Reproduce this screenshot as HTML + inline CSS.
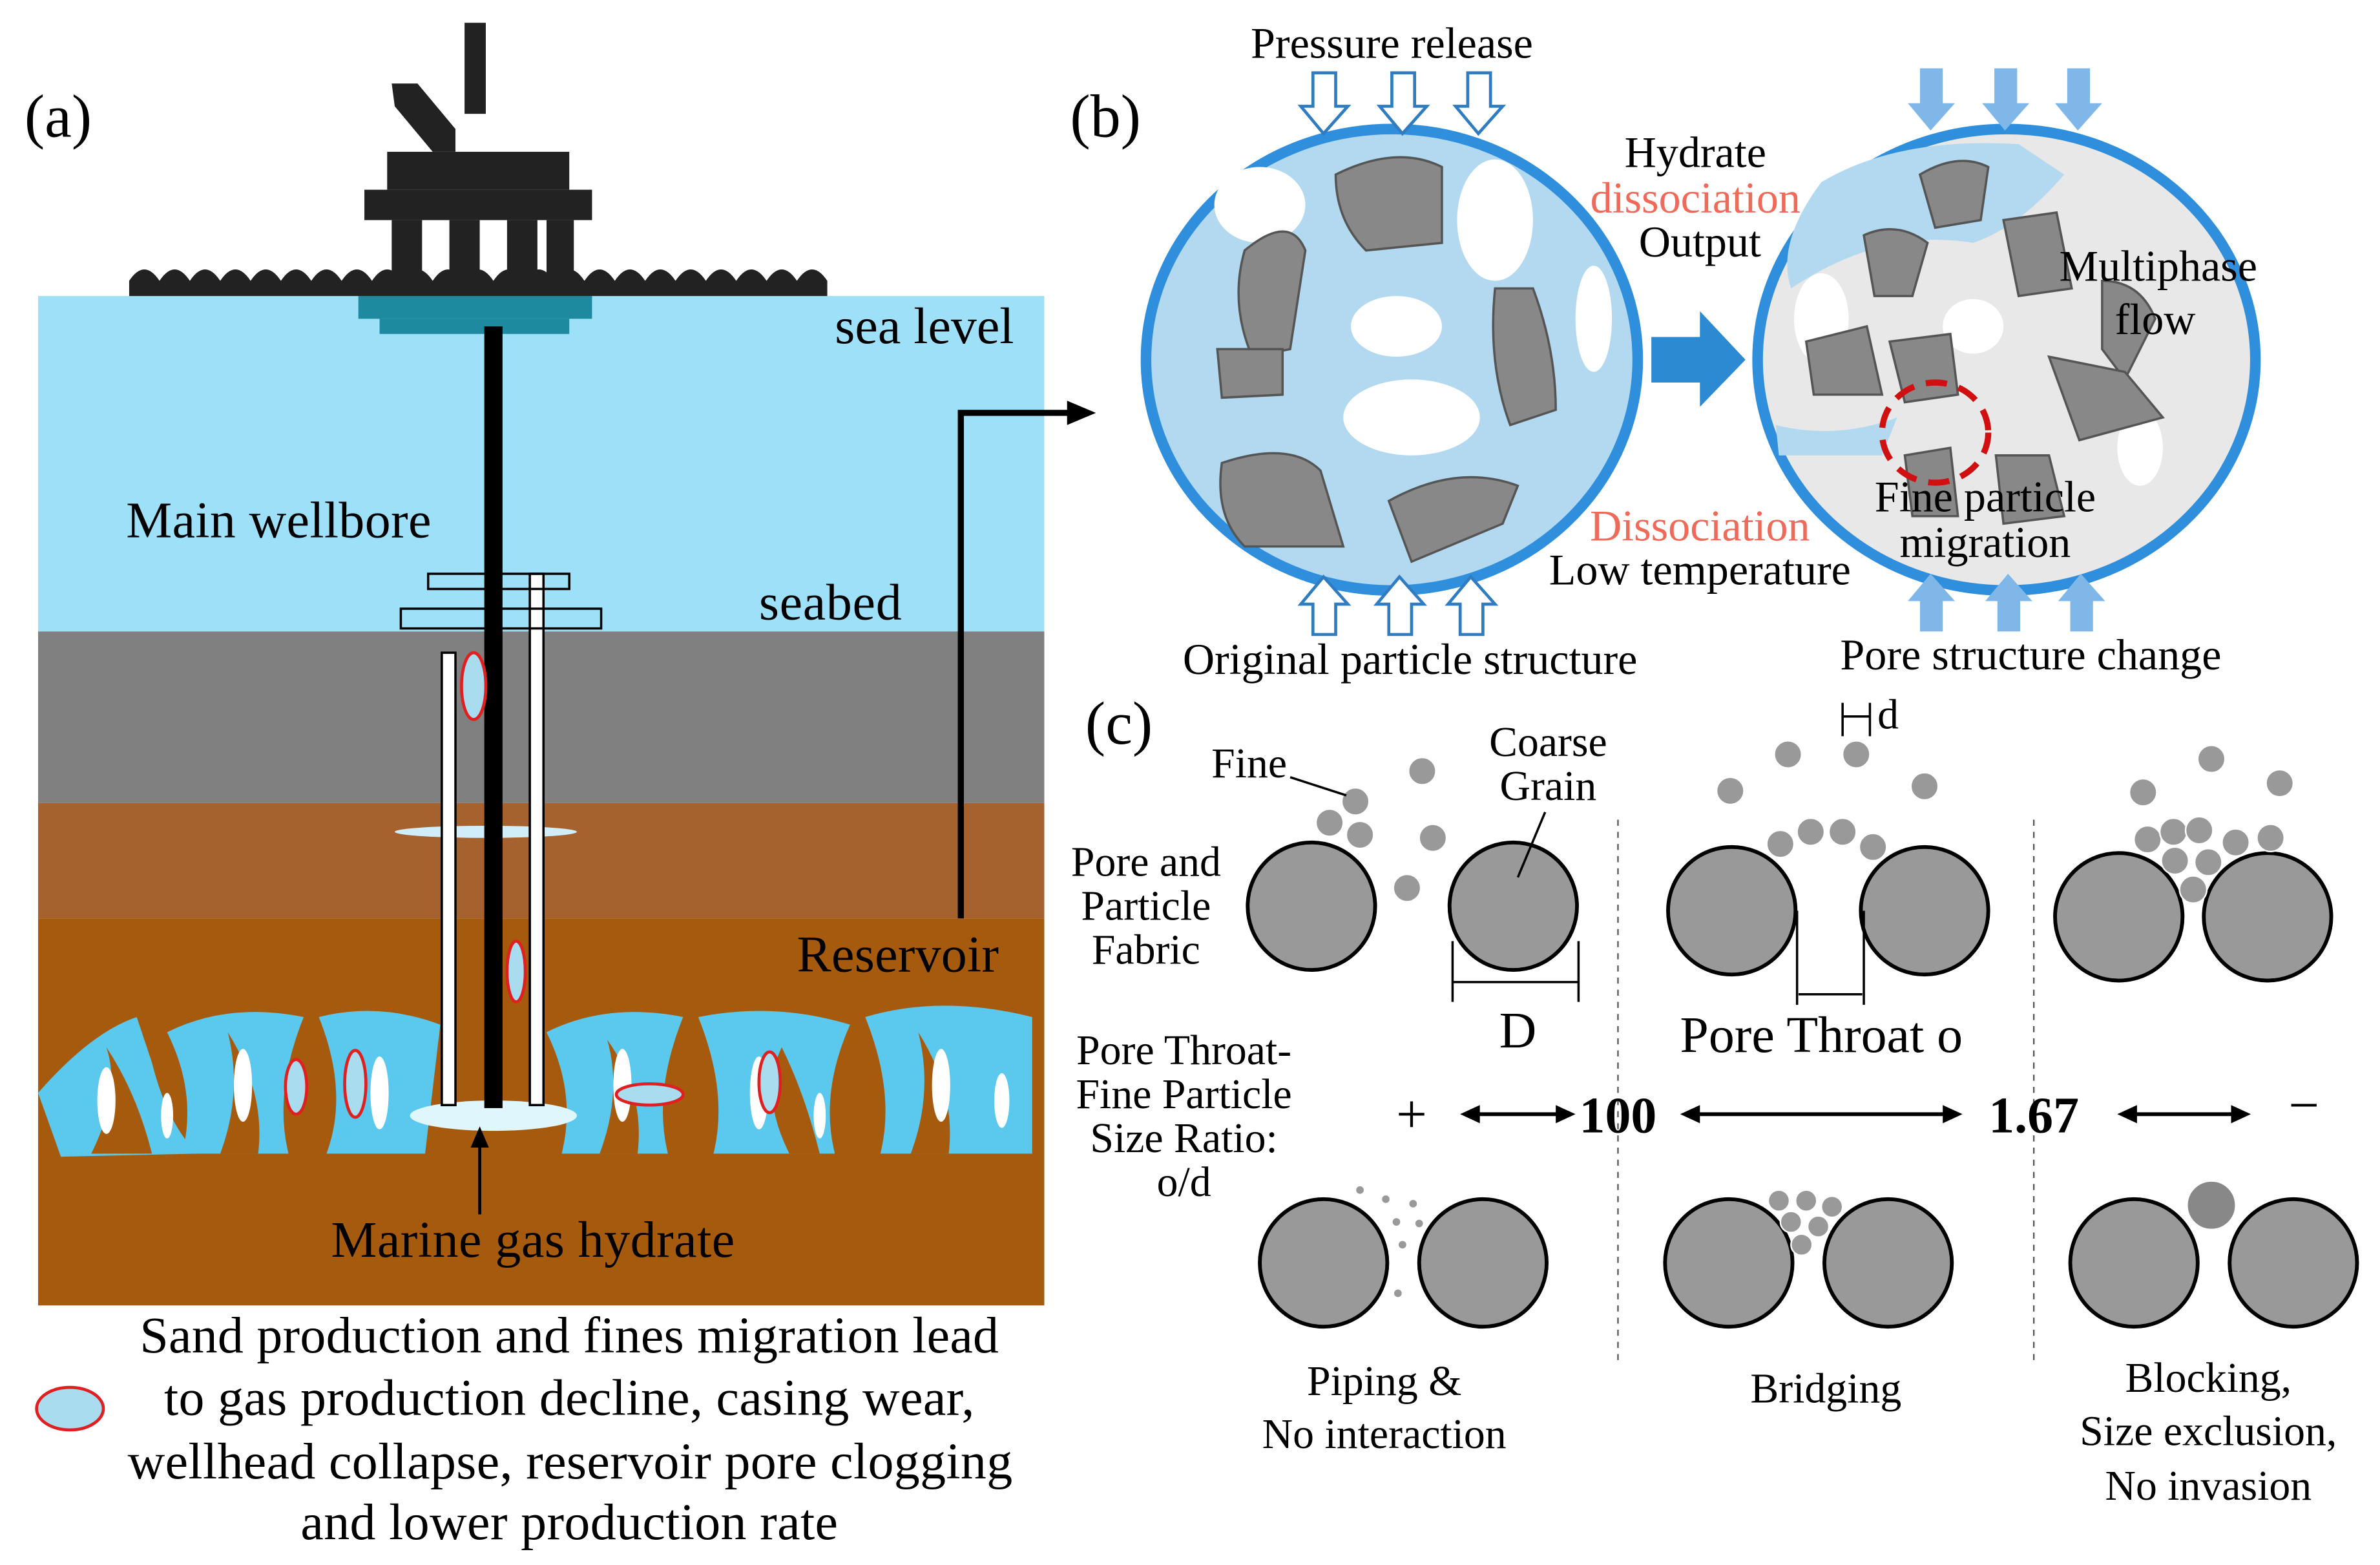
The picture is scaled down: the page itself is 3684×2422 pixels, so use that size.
<!DOCTYPE html>
<html><head><meta charset="utf-8"><style>html,body{margin:0;padding:0;background:#fff}svg{display:block}</style></head><body>
<svg width="3684" height="2422" viewBox="0 0 1568 1031" xmlns="http://www.w3.org/2000/svg" font-family="'Liberation Serif', serif">
<rect width="1568" height="1031" fill="#fff"/>
<!-- (a) -->
<text x="16" y="90" font-size="40">(a)</text>
<rect x="25" y="195" width="663" height="221" fill="#9ee0f7"/>
<rect x="25" y="416" width="663" height="113" fill="#808080"/>
<rect x="25" y="529" width="663" height="76" fill="#a5622e"/>
<rect x="25" y="605" width="663" height="255" fill="#a65a0e"/>
<!-- hydrate layer -->
<g fill="#5bc8ee">
<path d="M25 720 Q60 680 90 670 L100 700 Q110 740 130 760 L40 762 Z"/>
<path d="M110 680 Q150 660 200 670 Q180 720 190 760 L120 760 Q130 720 110 680Z"/>
<path d="M210 670 Q250 660 290 675 L280 760 L215 760 Q230 720 210 670Z"/>
<path d="M360 680 Q400 660 450 670 Q430 720 440 760 L370 760 Q380 720 360 680Z"/>
<path d="M460 670 Q510 660 560 675 Q540 720 550 760 L470 760 Q480 720 460 670Z"/>
<path d="M570 670 Q620 655 680 670 L680 760 L580 760 Q590 720 570 670Z"/>
</g>
<g fill="#a65a0e">
<path d="M60 760 Q80 720 70 690 Q90 720 100 760Z"/><path d="M145 760 Q160 720 150 680 Q175 720 170 760Z"/>
<path d="M395 760 Q410 720 400 685 Q425 720 420 760Z"/><path d="M600 760 Q615 720 605 680 Q630 720 625 760Z"/>
<path d="M520 760 Q500 720 515 690 Q530 720 540 760Z"/>
</g>
<g fill="#fff">
<ellipse cx="70" cy="725" rx="6" ry="22"/><ellipse cx="160" cy="715" rx="6" ry="24"/><ellipse cx="250" cy="720" rx="6" ry="24"/>
<ellipse cx="410" cy="715" rx="6" ry="24"/><ellipse cx="500" cy="720" rx="6" ry="24"/><ellipse cx="620" cy="715" rx="6" ry="24"/>
<ellipse cx="660" cy="725" rx="5" ry="18"/><ellipse cx="110" cy="735" rx="4" ry="15"/><ellipse cx="540" cy="735" rx="4" ry="15"/>
</g>
<ellipse cx="325" cy="735" rx="55" ry="10" fill="#dff6fd"/>
<ellipse cx="320" cy="548" rx="60" ry="4" fill="#cfeefa"/>
<!-- platform -->
<g fill="#222">
<rect x="306" y="15" width="14" height="60"/>
<path d="M258 55 L275 55 L300 85 L300 100 L285 100 L260 70Z"/>
<rect x="255" y="100" width="120" height="25"/>
<rect x="240" y="125" width="150" height="20"/>
<rect x="258" y="145" width="20" height="45"/><rect x="296" y="145" width="20" height="45"/><rect x="334" y="145" width="20" height="45"/><rect x="360" y="145" width="18" height="45"/>
</g>
<rect x="236" y="195" width="154" height="15" fill="#1d8aa0"/>
<rect x="250" y="210" width="125" height="10" fill="#1d8aa0"/>
<path d="M85 185 q10-15 20 0 q10-15 20 0 q10-15 20 0 q10-15 20 0 q10-15 20 0 q10-15 20 0 q10-15 20 0 q10-15 20 0 q10-15 20 0 q10-15 20 0 q10-15 20 0 q10-15 20 0 q10-15 20 0 q10-15 20 0 q10-15 20 0 q10-15 20 0 q10-15 20 0 q10-15 20 0 q10-15 20 0 q10-15 20 0 q10-15 20 0 q10-15 20 0 q10-15 20 0 L545 195 L85 195Z" fill="#222"/>
<!-- wellbore -->
<rect x="319" y="215" width="12" height="515" fill="#000"/>
<rect x="291" y="430" width="9" height="298" fill="#fff" stroke="#000" stroke-width="1.5"/>
<rect x="349" y="378" width="9" height="350" fill="#fff" stroke="#000" stroke-width="1.5"/>
<rect x="282" y="378" width="93" height="10" fill="none" stroke="#000" stroke-width="1.5"/>
<rect x="264" y="401" width="132" height="13" fill="none" stroke="#000" stroke-width="1.5"/>
<g fill="#a8dcee" stroke="#e02020" stroke-width="2">
<ellipse cx="312" cy="452" rx="8" ry="22"/><ellipse cx="340" cy="640" rx="6" ry="20"/>
<ellipse cx="195" cy="716" rx="7" ry="18"/><ellipse cx="234" cy="714" rx="7" ry="22"/>
<ellipse cx="428" cy="721" rx="22" ry="7"/><ellipse cx="507" cy="713" rx="7" ry="20"/>
<ellipse cx="46" cy="928" rx="22" ry="14"/>
</g>
<line x1="316" y1="800" x2="316" y2="752" stroke="#000" stroke-width="2"/>
<path d="M310 756 L316 742 L322 756Z"/>
<path d="M633 605 L633 272 L705 272" fill="none" stroke="#000" stroke-width="4"/>
<path d="M703 264 L722 272 L703 280Z"/>
<g font-size="34">
<text x="550" y="226" textLength="118">sea level</text>
<text x="83" y="354" textLength="201">Main wellbore</text>
<text x="500" y="408" textLength="94">seabed</text>
<text x="525" y="640" textLength="133">Reservoir</text>
<text x="218" y="828" textLength="266">Marine gas hydrate</text>
<text x="92" y="891" textLength="566">Sand production and fines migration lead</text>
<text x="108" y="932" textLength="534">to gas production decline, casing wear,</text>
<text x="84" y="974" textLength="583">wellhead collapse, reservoir pore clogging</text>
<text x="198" y="1014" textLength="354">and lower production rate</text>
</g>
<!-- (b) -->
<text x="705" y="90" font-size="40">(b)</text>
<ellipse cx="917" cy="237" rx="162" ry="152" fill="#b3d9f0" stroke="#2f8fdc" stroke-width="7"/>
<g fill="#fff"><ellipse cx="920" cy="215" rx="30" ry="20"/><ellipse cx="930" cy="275" rx="45" ry="25"/><ellipse cx="830" cy="135" rx="30" ry="25"/><ellipse cx="985" cy="145" rx="25" ry="40"/><ellipse cx="1050" cy="210" rx="12" ry="35"/></g>
<g fill="#888" stroke="#555" stroke-width="1.5">
<path d="M880 115 Q920 95 950 110 L950 160 L900 165 Q880 145 880 115Z"/>
<path d="M820 165 Q850 140 860 165 L850 230 L825 235 Q810 200 820 165Z"/>
<path d="M802 230 L845 230 L845 260 L805 262Z"/>
<path d="M985 190 L1010 190 Q1025 230 1025 270 L995 280 Q980 240 985 190Z"/>
<path d="M805 305 Q850 290 870 310 L885 360 L820 360 Q800 340 805 305Z"/>
<path d="M915 330 Q960 305 1000 320 L990 345 L930 370 Z"/>
</g>
<ellipse cx="1322" cy="237" rx="164" ry="152" fill="#e8e8e8" stroke="#2f8fdc" stroke-width="7"/>
<path d="M1180 190 Q1240 150 1300 160 Q1330 150 1360 115 L1330 95 Q1250 90 1200 120 Q1170 160 1180 190Z" fill="#b3d9f0"/>
<path d="M1170 280 Q1210 290 1250 275 L1240 300 Q1200 300 1172 300Z" fill="#b3d9f0"/>
<g fill="#fff"><ellipse cx="1200" cy="210" rx="18" ry="30"/><ellipse cx="1300" cy="215" rx="20" ry="18"/><ellipse cx="1410" cy="295" rx="15" ry="25"/></g>
<g fill="#888" stroke="#555" stroke-width="1.5">
<path d="M1265 115 Q1290 100 1310 110 L1305 145 L1275 150Z"/>
<path d="M1228 155 Q1250 145 1270 160 L1260 195 L1235 195Z"/>
<path d="M1320 145 L1355 140 L1365 190 L1330 195Z"/>
<path d="M1190 225 L1230 215 L1240 260 L1195 260Z"/>
<path d="M1245 225 L1285 220 L1290 260 L1255 265Z"/>
<path d="M1385 185 Q1410 185 1420 210 L1400 250 L1385 230Z"/>
<path d="M1350 235 L1400 245 L1425 275 L1370 290Z"/>
<path d="M1255 300 L1285 295 L1290 340 L1260 340Z"/>
<path d="M1315 300 L1350 300 L1360 340 L1320 345Z"/>
</g>
<ellipse cx="1275" cy="285" rx="35" ry="33" fill="none" stroke="#d01010" stroke-width="4" stroke-dasharray="14 8"/>
<path d="M1088 222 L1120 222 L1120 205 L1150 237 L1120 268 L1120 252 L1088 252Z" fill="#2c8ad2"/>
<g fill="#fff" stroke="#2f7cc0" stroke-width="2">
<path d="M865 48 L880 48 L880 70 L888 70 L872 88 L857 70 L865 70Z"/>
<path d="M917 48 L932 48 L932 70 L940 70 L924 88 L909 70 L917 70Z"/>
<path d="M967 48 L982 48 L982 70 L990 70 L974 88 L959 70 L967 70Z"/>
<path d="M865 418 L880 418 L880 398 L888 398 L872 380 L857 398 L865 398Z"/>
<path d="M915 418 L930 418 L930 398 L938 398 L922 380 L907 398 L915 398Z"/>
<path d="M962 418 L977 418 L977 398 L985 398 L969 380 L954 398 L962 398Z"/>
</g>
<g fill="#7fb8e8">
<path d="M1265 45 L1280 45 L1280 68 L1288 68 L1272 86 L1257 68 L1265 68Z"/>
<path d="M1314 45 L1329 45 L1329 68 L1337 68 L1321 86 L1306 68 L1314 68Z"/>
<path d="M1362 45 L1377 45 L1377 68 L1385 68 L1369 86 L1354 68 L1362 68Z"/>
<path d="M1265 416 L1280 416 L1280 396 L1288 396 L1272 378 L1257 396 L1265 396Z"/>
<path d="M1316 416 L1331 416 L1331 396 L1339 396 L1323 378 L1308 396 L1316 396Z"/>
<path d="M1364 416 L1379 416 L1379 396 L1387 396 L1371 378 L1356 396 L1364 396Z"/>
</g>
<g font-size="29">
<text x="917" y="38" text-anchor="middle">Pressure release</text>
<text x="1117" y="110" text-anchor="middle">Hydrate</text>
<text x="1117" y="140" text-anchor="middle" fill="#f06a5a">dissociation</text>
<text x="1120" y="169" text-anchor="middle">Output</text>
<text x="1422" y="185" text-anchor="middle">Multiphase</text>
<text x="1420" y="220" text-anchor="middle">flow</text>
<text x="1308" y="337" text-anchor="middle">Fine particle</text>
<text x="1308" y="367" text-anchor="middle">migration</text>
<text x="1120" y="356" text-anchor="middle" fill="#f06a5a">Dissociation</text>
<text x="1120" y="385" text-anchor="middle">Low temperature</text>
<text x="929" y="444" text-anchor="middle">Original particle structure</text>
<text x="1338" y="441" text-anchor="middle">Pore structure change</text>
</g>
<!-- (c) -->
<text x="715" y="490" font-size="40">(c)</text>
<g stroke="#555" stroke-width="1" stroke-dasharray="4 4"><line x1="1066" y1="540" x2="1066" y2="900"/><line x1="1340" y1="540" x2="1340" y2="900"/></g>
<g fill="#999" stroke="#000" stroke-width="2.5">
<circle cx="864" cy="597" r="42"/><circle cx="997" cy="597" r="42"/>
<circle cx="1141" cy="600" r="42"/><circle cx="1268" cy="600" r="42"/>
<circle cx="1396" cy="604" r="42"/><circle cx="1494" cy="604" r="42"/>
<circle cx="872" cy="832" r="42"/><circle cx="977" cy="832" r="42"/>
<circle cx="1139" cy="832" r="42"/><circle cx="1244" cy="832" r="42"/>
<circle cx="1406" cy="832" r="42"/><circle cx="1511" cy="832" r="42"/>
</g>
<g fill="#999" stroke="#fff" stroke-width="1">
<circle cx="893" cy="528" r="9"/><circle cx="876" cy="542" r="9"/><circle cx="896" cy="550" r="9"/><circle cx="937" cy="508" r="9"/><circle cx="944" cy="552" r="9"/><circle cx="927" cy="585" r="9"/>
<circle cx="1178" cy="497" r="9"/><circle cx="1223" cy="497" r="9"/><circle cx="1140" cy="521" r="9"/><circle cx="1268" cy="518" r="9"/>
<circle cx="1173" cy="556" r="9"/><circle cx="1193" cy="548" r="9"/><circle cx="1214" cy="548" r="9"/><circle cx="1234" cy="558" r="9"/>
<circle cx="1457" cy="500" r="9"/><circle cx="1412" cy="522" r="9"/><circle cx="1502" cy="516" r="9"/>
<circle cx="1415" cy="553" r="9"/><circle cx="1432" cy="548" r="9"/><circle cx="1449" cy="547" r="9"/><circle cx="1473" cy="555" r="9"/><circle cx="1496" cy="552" r="9"/>
<circle cx="1433" cy="567" r="9"/><circle cx="1455" cy="568" r="9"/><circle cx="1445" cy="586" r="9"/>
<circle cx="1172" cy="791" r="7"/><circle cx="1190" cy="791" r="7"/><circle cx="1207" cy="795" r="7"/><circle cx="1180" cy="805" r="7"/><circle cx="1198" cy="808" r="7"/><circle cx="1187" cy="820" r="7"/>
<circle cx="1457" cy="794" r="16" fill="#888"/>
<circle cx="896" cy="784" r="3"/><circle cx="913" cy="790" r="3"/><circle cx="931" cy="793" r="3"/><circle cx="920" cy="805" r="3"/><circle cx="935" cy="806" r="3"/><circle cx="924" cy="820" r="3"/><circle cx="921" cy="852" r="3"/>
</g>
<g stroke="#000" stroke-width="1.5" fill="none">
<line x1="850" y1="512" x2="887" y2="524"/><line x1="1018" y1="535" x2="1000" y2="578"/>
<line x1="957" y1="647" x2="1040" y2="647"/><line x1="957" y1="620" x2="957" y2="660"/><line x1="1040" y1="620" x2="1040" y2="660"/>
<line x1="1185" y1="655" x2="1227" y2="655"/><line x1="1184" y1="600" x2="1184" y2="662"/><line x1="1228" y1="600" x2="1228" y2="662"/>
<line x1="1214" y1="472" x2="1232" y2="472"/><line x1="1214" y1="463" x2="1214" y2="485"/><line x1="1232" y1="463" x2="1232" y2="485"/>
</g>
<g stroke="#000" stroke-width="2.5"><line x1="970" y1="734" x2="1030" y2="734"/><line x1="1115" y1="734" x2="1285" y2="734"/><line x1="1403" y1="734" x2="1475" y2="734"/></g>
<g fill="#000"><path d="M962 734 L975 728 L975 740Z"/><path d="M1038 734 L1025 728 L1025 740Z"/><path d="M1107 734 L1120 728 L1120 740Z"/><path d="M1293 734 L1280 728 L1280 740Z"/><path d="M1395 734 L1408 728 L1408 740Z"/><path d="M1483 734 L1470 728 L1470 740Z"/></g>
<g font-size="28">
<text x="823" y="512" text-anchor="middle">Fine</text>
<text x="1020" y="498" text-anchor="middle">Coarse</text>
<text x="1020" y="527" text-anchor="middle">Grain</text>
<text x="755" y="577" text-anchor="middle">Pore and</text>
<text x="755" y="606" text-anchor="middle">Particle</text>
<text x="755" y="635" text-anchor="middle">Fabric</text>
<text x="1237" y="480">d</text>
<text x="780" y="701" text-anchor="middle">Pore Throat-</text>
<text x="780" y="730" text-anchor="middle">Fine Particle</text>
<text x="780" y="759" text-anchor="middle">Size Ratio:</text>
<text x="780" y="788" text-anchor="middle">o/d</text>
<text x="912" y="919" text-anchor="middle">Piping &amp;</text>
<text x="912" y="954" text-anchor="middle">No interaction</text>
<text x="1203" y="924" text-anchor="middle">Bridging</text>
<text x="1455" y="917" text-anchor="middle">Blocking,</text>
<text x="1455" y="952" text-anchor="middle">Size exclusion,</text>
<text x="1455" y="988" text-anchor="middle">No invasion</text>
</g>
<text x="1000" y="690" font-size="34" text-anchor="middle">D</text>
<text x="1200" y="693" font-size="34" text-anchor="middle">Pore Throat o</text>
<text x="930" y="746" font-size="36" text-anchor="middle">+</text>
<text x="1066" y="746" font-size="34" font-weight="bold" text-anchor="middle">100</text>
<text x="1340" y="746" font-size="34" font-weight="bold" text-anchor="middle">1.67</text>
<text x="1518" y="740" font-size="36" text-anchor="middle">−</text>
</svg>
</body></html>
